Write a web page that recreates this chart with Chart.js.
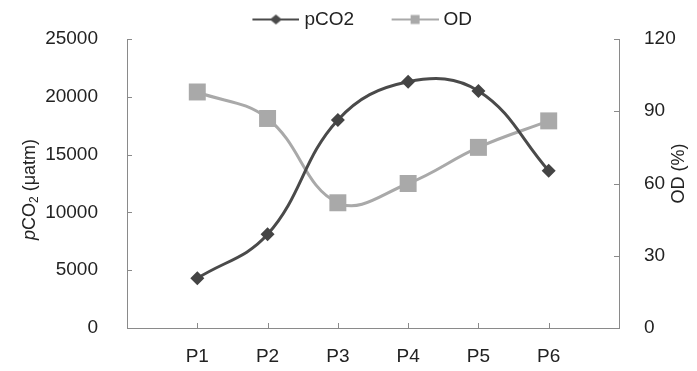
<!DOCTYPE html>
<html>
<head>
<meta charset="utf-8">
<script src="https://cdn.jsdelivr.net/npm/chart.js@4/dist/chart.umd.min.js"></script>
<style>
  html, body { margin: 0; padding: 0; background: #fff; }
  #wrap { width: 697px; height: 371px; position: relative; }
</style>
</head>
<body>
<div id="wrap"><canvas id="lineChart"></canvas></div>
<script>
// data (blank slots before P1 and after P6)
const categories = ["", "P1", "P2", "P3", "P4", "P5", "P6", ""];
const pco2Values = [null, 4300, 8100, 18000, 21300, 20500, 13600, null];
const odValues = [null, 98, 87, 52, 60, 75, 86, null];

const darkGray = "#4a4a4a";
const lightGray = "#a9a9a9";
const axisGray = "#8a8a8a";
const textColor = "#222";
const fontFamily = "'Liberation Sans', Arial, sans-serif";

// line+marker picture for the legend; the visible part sits at the right
// end of a wider canvas so items get more room between them
function legendIcon(color, shape) {
  const c = document.createElement("canvas");
  c.width = 79;
  c.height = 16;
  const g = c.getContext("2d");
  const left = 32, mid = 55.5;
  g.strokeStyle = color;
  g.lineWidth = 2;
  g.beginPath();
  g.moveTo(left, 8);
  g.lineTo(79, 8);
  g.stroke();
  g.fillStyle = color;
  g.beginPath();
  if (shape === "diamond") {
    g.moveTo(mid, 3); g.lineTo(mid + 6, 8); g.lineTo(mid, 13); g.lineTo(mid - 6, 8);
  } else {
    g.rect(mid - 4.5, 3.5, 9, 9);
  }
  g.closePath();
  g.fill();
  return c;
}

// inward tick marks and the two rotated axis titles
const axisExtras = {
  id: "axisExtras",
  afterDraw(chart) {
    const ctx = chart.ctx;
    const area = chart.chartArea;
    const x = chart.scales.x, y = chart.scales.y, y1 = chart.scales.y1;
    ctx.save();
    ctx.strokeStyle = axisGray;
    ctx.lineWidth = 1;
    ctx.beginPath();
    y.ticks.forEach(t => {
      const py = Math.round(y.getPixelForValue(t.value)) + 0.5;
      ctx.moveTo(area.left, py); ctx.lineTo(area.left + 5, py);
    });
    y1.ticks.forEach(t => {
      const py = Math.round(y1.getPixelForValue(t.value)) + 0.5;
      ctx.moveTo(area.right, py); ctx.lineTo(area.right - 5, py);
    });
    categories.forEach((c, i) => {
      const px = Math.round(x.getPixelForValue(i)) + 0.5;
      ctx.moveTo(px, area.bottom); ctx.lineTo(px, area.bottom - 5);
    });
    ctx.stroke();

    ctx.fillStyle = textColor;
    ctx.textBaseline = "middle";
    // left title: pCO2 (µatm)
    const parts = [
      { t: "p", f: "italic 18px " + fontFamily, dy: 0 },
      { t: "CO", f: "18px " + fontFamily, dy: 0 },
      { t: "2", f: "12px " + fontFamily, dy: 5 },
      { t: " (\u03bcatm)", f: "18px " + fontFamily, dy: 0 }
    ];
    let total = 0;
    parts.forEach(p => { ctx.font = p.f; p.w = ctx.measureText(p.t).width; total += p.w; });
    ctx.translate(30, (area.top + area.bottom) / 2 + 6);
    ctx.rotate(-Math.PI / 2);
    let cx = -total / 2;
    ctx.textAlign = "left";
    parts.forEach(p => { ctx.font = p.f; ctx.fillText(p.t, cx, p.dy); cx += p.w; });
    ctx.restore();

    ctx.save();
    ctx.fillStyle = textColor;
    ctx.textBaseline = "middle";
    ctx.textAlign = "center";
    ctx.font = "18px " + fontFamily;
    ctx.translate(679, (area.top + area.bottom) / 2 - 10);
    ctx.rotate(-Math.PI / 2);
    ctx.fillText("OD (%)", 0, 0);
    ctx.restore();
  }
};

const plainNumber = v => String(v);

const ctx = document.getElementById("lineChart").getContext("2d");
new Chart(ctx, {
  type: "line",
  data: {
    labels: categories,
    datasets: [
      {
        label: "pCO2",
        data: pco2Values,
        yAxisID: "y",
        borderColor: darkGray,
        backgroundColor: darkGray,
        borderWidth: 3,
        tension: 0.4,
        pointStyle: "rectRot",
        pointRadius: 7,
        pointHoverRadius: 7,
        pointBackgroundColor: "#444",
        pointBorderWidth: 0,
        legendIcon: legendIcon(darkGray, "diamond")
      },
      {
        label: "OD",
        data: odValues,
        yAxisID: "y1",
        borderColor: lightGray,
        backgroundColor: lightGray,
        borderWidth: 3,
        tension: 0.4,
        pointStyle: "rect",
        pointRadius: 12,
        pointHoverRadius: 12,
        pointBackgroundColor: lightGray,
        pointBorderWidth: 0,
        legendIcon: legendIcon(lightGray, "square")
      }
    ]
  },
  options: {
    responsive: true,
    maintainAspectRatio: false,
    animation: false,
    layout: { padding: { top: 0, right: 0, bottom: 0, left: 0 } },
    plugins: {
      tooltip: { enabled: false },
      legend: {
        position: "top",
        labels: {
          usePointStyle: true,
          pointStyleWidth: 70,
          padding: 10,
          color: textColor,
          font: { family: fontFamily, size: 19 },
          generateLabels(chart) {
            return chart.data.datasets.map((ds, i) => ({
              text: ds.label,
              fillStyle: ds.borderColor,
              strokeStyle: ds.borderColor,
              lineWidth: 0,
              pointStyle: ds.legendIcon,
              fontColor: textColor,
              datasetIndex: i
            }));
          }
        }
      }
    },
    scales: {
      x: {
        offset: false,
        grid: { display: false },
        border: { color: axisGray, width: 1 },
        ticks: {
          color: textColor,
          font: { family: fontFamily, size: 19 },
          padding: 9,
          maxRotation: 0,
          autoSkip: false
        },
        afterFit(scale) { scale.height = 43; }
      },
      y: {
        position: "left",
        min: 0,
        max: 25000,
        grid: { display: false },
        border: { color: axisGray, width: 1 },
        ticks: {
          stepSize: 5000,
          callback: plainNumber,
          color: textColor,
          font: { family: fontFamily, size: 19 },
          padding: 21
        },
        afterFit(scale) { scale.width = 127; }
      },
      y1: {
        position: "right",
        min: 0,
        max: 120,
        grid: { display: false },
        border: { color: axisGray, width: 1 },
        ticks: {
          stepSize: 30,
          callback: plainNumber,
          color: textColor,
          font: { family: fontFamily, size: 19 },
          padding: 17
        },
        afterFit(scale) { scale.width = 78; }
      }
    }
  },
  plugins: [axisExtras]
});
</script>
</body>
</html>
